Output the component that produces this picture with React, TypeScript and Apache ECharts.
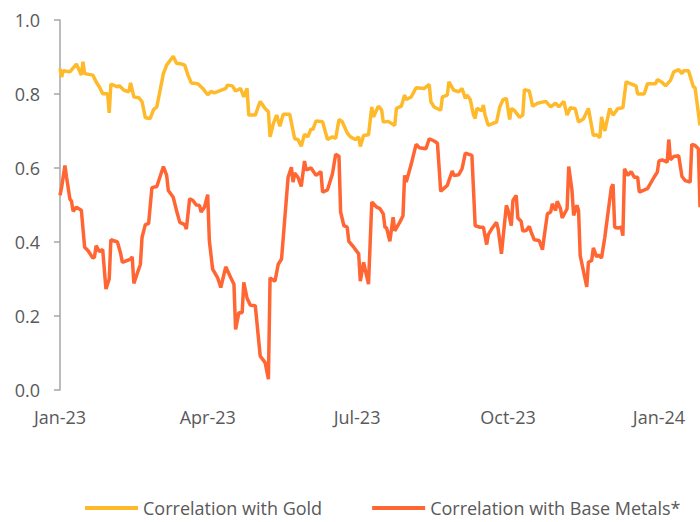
import React, { useEffect, useRef } from "react";
import * as echarts from "echarts";

const START_DATE = "2023-01-01";
const DAY_COUNT = 391; // daily categories through 2024-01-26
const QUARTER_MONTHS = ["01", "04", "07", "10"];
const MONTH_NAMES = ["Jan", "Feb", "Mar", "Apr", "May", "Jun", "Jul", "Aug", "Sep", "Oct", "Nov", "Dec"];

const yTicks = [0, 0.2, 0.4, 0.6, 0.8, 1.0];

const goldDates = [
  "2023-01-01", "2023-01-02", "2023-01-03", "2023-01-07", "2023-01-11", "2023-01-14", "2023-01-15", "2023-01-16",
  "2023-01-21", "2023-01-23", "2023-01-25", "2023-01-27", "2023-01-30", "2023-01-31", "2023-02-01", "2023-02-05",
  "2023-02-06", "2023-02-09", "2023-02-12", "2023-02-13", "2023-02-15", "2023-02-18", "2023-02-20", "2023-02-22",
  "2023-02-25", "2023-02-27", "2023-03-01", "2023-03-05", "2023-03-07", "2023-03-11", "2023-03-13", "2023-03-16",
  "2023-03-18", "2023-03-20", "2023-03-22", "2023-03-26", "2023-03-29", "2023-04-01", "2023-04-03", "2023-04-05",
  "2023-04-09", "2023-04-12", "2023-04-13", "2023-04-16", "2023-04-18", "2023-04-21", "2023-04-23", "2023-04-25",
  "2023-04-26", "2023-04-30", "2023-05-03", "2023-05-06", "2023-05-08", "2023-05-09", "2023-05-11", "2023-05-13",
  "2023-05-15", "2023-05-17", "2023-05-21", "2023-05-24", "2023-05-26", "2023-05-28", "2023-05-30", "2023-06-01",
  "2023-06-03", "2023-06-04", "2023-06-06", "2023-06-10", "2023-06-13", "2023-06-16", "2023-06-18", "2023-06-20",
  "2023-06-22", "2023-06-25", "2023-06-27", "2023-06-30", "2023-07-02", "2023-07-03", "2023-07-05", "2023-07-08",
  "2023-07-10", "2023-07-11", "2023-07-14", "2023-07-16", "2023-07-17", "2023-07-20", "2023-07-24", "2023-07-25",
  "2023-07-28", "2023-07-30", "2023-07-31", "2023-08-03", "2023-08-06", "2023-08-11", "2023-08-14", "2023-08-15",
  "2023-08-17", "2023-08-21", "2023-08-22", "2023-08-25", "2023-08-26", "2023-08-29", "2023-09-01", "2023-09-03",
  "2023-09-05", "2023-09-06", "2023-09-08", "2023-09-10", "2023-09-11", "2023-09-12", "2023-09-15", "2023-09-16",
  "2023-09-17", "2023-09-19", "2023-09-22", "2023-09-24", "2023-09-26", "2023-09-28", "2023-09-30", "2023-10-02",
  "2023-10-03", "2023-10-05", "2023-10-08", "2023-10-10", "2023-10-11", "2023-10-14", "2023-10-16", "2023-10-19",
  "2023-10-24", "2023-10-27", "2023-10-30", "2023-11-01", "2023-11-04", "2023-11-06", "2023-11-08", "2023-11-11",
  "2023-11-13", "2023-11-16", "2023-11-19", "2023-11-22", "2023-11-24", "2023-11-26", "2023-11-27", "2023-11-29",
  "2023-12-02", "2023-12-04", "2023-12-07", "2023-12-10", "2023-12-12", "2023-12-15", "2023-12-18", "2023-12-19",
  "2023-12-23", "2023-12-25", "2023-12-30", "2023-12-31", "2024-01-03", "2024-01-05", "2024-01-08", "2024-01-10",
  "2024-01-13", "2024-01-15", "2024-01-16", "2024-01-19", "2024-01-22", "2024-01-23", "2024-01-26",
];

const goldValues = [
  0.869, 0.846, 0.863, 0.86, 0.881, 0.851, 0.887, 0.855,
  0.851, 0.833, 0.819, 0.801, 0.801, 0.749, 0.827, 0.819,
  0.823, 0.81, 0.806, 0.83, 0.792, 0.79, 0.779, 0.736,
  0.734, 0.758, 0.765, 0.855, 0.878, 0.902, 0.883, 0.881,
  0.878, 0.851, 0.83, 0.828, 0.815, 0.798, 0.807, 0.803,
  0.81, 0.815, 0.824, 0.822, 0.808, 0.815, 0.792, 0.815,
  0.743, 0.743, 0.78, 0.761, 0.752, 0.684, 0.72, 0.743,
  0.713, 0.745, 0.745, 0.679, 0.677, 0.659, 0.691, 0.684,
  0.706, 0.703, 0.727, 0.725, 0.677, 0.684, 0.68, 0.731,
  0.725, 0.695, 0.684, 0.677, 0.684, 0.658, 0.688, 0.69,
  0.765, 0.738, 0.767, 0.757, 0.724, 0.726, 0.715, 0.761,
  0.767, 0.797, 0.785, 0.792, 0.817, 0.815, 0.826, 0.779,
  0.765, 0.756, 0.792, 0.797, 0.833, 0.81, 0.806, 0.815,
  0.788, 0.797, 0.785, 0.743, 0.734, 0.761, 0.755, 0.77,
  0.743, 0.715, 0.721, 0.724, 0.765, 0.785, 0.788, 0.731,
  0.761, 0.755, 0.737, 0.743, 0.812, 0.808, 0.767, 0.775,
  0.78, 0.765, 0.775, 0.765, 0.78, 0.743, 0.763, 0.76,
  0.724, 0.733, 0.761, 0.688, 0.69, 0.682, 0.738, 0.7,
  0.761, 0.743, 0.761, 0.763, 0.833, 0.827, 0.822, 0.8,
  0.8, 0.828, 0.828, 0.839, 0.831, 0.822, 0.837, 0.86,
  0.866, 0.855, 0.863, 0.863, 0.819, 0.817, 0.715,
];

const metalDates = [
  "2023-01-01", "2023-01-02", "2023-01-04", "2023-01-05", "2023-01-07", "2023-01-08", "2023-01-09", "2023-01-11",
  "2023-01-14", "2023-01-16", "2023-01-18", "2023-01-21", "2023-01-22", "2023-01-23", "2023-01-25", "2023-01-27",
  "2023-01-29", "2023-01-31", "2023-02-01", "2023-02-05", "2023-02-07", "2023-02-08", "2023-02-13", "2023-02-14",
  "2023-02-15", "2023-02-19", "2023-02-20", "2023-02-22", "2023-02-24", "2023-02-26", "2023-03-01", "2023-03-05",
  "2023-03-07", "2023-03-08", "2023-03-11", "2023-03-13", "2023-03-15", "2023-03-18", "2023-03-19", "2023-03-21",
  "2023-03-23", "2023-03-25", "2023-03-27", "2023-03-28", "2023-03-30", "2023-04-01", "2023-04-02", "2023-04-04",
  "2023-04-07", "2023-04-09", "2023-04-12", "2023-04-15", "2023-04-17", "2023-04-18", "2023-04-20", "2023-04-22",
  "2023-04-23", "2023-04-25", "2023-04-27", "2023-04-30", "2023-05-03", "2023-05-06", "2023-05-08", "2023-05-09",
  "2023-05-12", "2023-05-14", "2023-05-16", "2023-05-20", "2023-05-22", "2023-05-23", "2023-05-24", "2023-05-26",
  "2023-05-28", "2023-05-30", "2023-05-31", "2023-06-03", "2023-06-06", "2023-06-09", "2023-06-10", "2023-06-13",
  "2023-06-16", "2023-06-18", "2023-06-20", "2023-06-21", "2023-06-23", "2023-06-25", "2023-06-26", "2023-06-29",
  "2023-07-02", "2023-07-03", "2023-07-05", "2023-07-08", "2023-07-10", "2023-07-13", "2023-07-15", "2023-07-17",
  "2023-07-18", "2023-07-19", "2023-07-21", "2023-07-23", "2023-07-24", "2023-07-27", "2023-07-29", "2023-07-30",
  "2023-07-31", "2023-08-03", "2023-08-06", "2023-08-08", "2023-08-12", "2023-08-14", "2023-08-17", "2023-08-19",
  "2023-08-21", "2023-08-25", "2023-08-28", "2023-08-29", "2023-09-01", "2023-09-03", "2023-09-05", "2023-09-09",
  "2023-09-11", "2023-09-14", "2023-09-16", "2023-09-18", "2023-09-19", "2023-09-21", "2023-09-24", "2023-09-25",
  "2023-09-27", "2023-09-30", "2023-10-01", "2023-10-03", "2023-10-04", "2023-10-06", "2023-10-07", "2023-10-09",
  "2023-10-10", "2023-10-12", "2023-10-14", "2023-10-15", "2023-10-17", "2023-10-20", "2023-10-22", "2023-10-23",
  "2023-10-25", "2023-10-27", "2023-10-28", "2023-10-30", "2023-10-31", "2023-11-02", "2023-11-03", "2023-11-06",
  "2023-11-07", "2023-11-09", "2023-11-10", "2023-11-12", "2023-11-13", "2023-11-14", "2023-11-18", "2023-11-19",
  "2023-11-21", "2023-11-22", "2023-11-24", "2023-11-25", "2023-11-27", "2023-11-29", "2023-12-01", "2023-12-03",
  "2023-12-04", "2023-12-05", "2023-12-07", "2023-12-09", "2023-12-10", "2023-12-11", "2023-12-13", "2023-12-15",
  "2023-12-17", "2023-12-19", "2023-12-20", "2023-12-25", "2023-12-29", "2023-12-31", "2024-01-01", "2024-01-03",
  "2024-01-06", "2024-01-07", "2024-01-08", "2024-01-10", "2024-01-13", "2024-01-15", "2024-01-17", "2024-01-20",
  "2024-01-21", "2024-01-23", "2024-01-25", "2024-01-26",
];

const metalValues = [
  0.526, 0.548, 0.607, 0.575, 0.517, 0.51, 0.483, 0.494,
  0.486, 0.386, 0.377, 0.357, 0.359, 0.39, 0.374, 0.38,
  0.273, 0.3, 0.406, 0.4, 0.368, 0.345, 0.354, 0.36,
  0.288, 0.34, 0.413, 0.447, 0.45, 0.547, 0.55, 0.604,
  0.58, 0.539, 0.521, 0.485, 0.453, 0.447, 0.435, 0.517,
  0.512, 0.5, 0.499, 0.481, 0.494, 0.528, 0.404, 0.327,
  0.304, 0.277, 0.333, 0.304, 0.286, 0.164, 0.209, 0.209,
  0.291, 0.248, 0.229, 0.228, 0.092, 0.074, 0.029, 0.303,
  0.294, 0.34, 0.354, 0.575, 0.602, 0.562, 0.586, 0.575,
  0.55, 0.619, 0.595, 0.6, 0.58, 0.59, 0.535, 0.541,
  0.584, 0.637, 0.632, 0.481, 0.444, 0.44, 0.402, 0.386,
  0.368, 0.294, 0.345, 0.286, 0.508, 0.494, 0.49, 0.476,
  0.44, 0.438, 0.402, 0.467, 0.43, 0.453, 0.471, 0.58,
  0.562, 0.61, 0.664, 0.655, 0.652, 0.679, 0.673, 0.667,
  0.537, 0.553, 0.592, 0.58, 0.582, 0.598, 0.64, 0.634,
  0.444, 0.44, 0.44, 0.393, 0.42, 0.435, 0.453, 0.435,
  0.368, 0.499, 0.486, 0.444, 0.512, 0.526, 0.465, 0.456,
  0.43, 0.431, 0.442, 0.428, 0.406, 0.404, 0.379, 0.413,
  0.476, 0.481, 0.503, 0.485, 0.51, 0.49, 0.465, 0.49,
  0.604, 0.539, 0.472, 0.499, 0.485, 0.363, 0.279, 0.345,
  0.35, 0.384, 0.36, 0.365, 0.357, 0.413, 0.481, 0.548,
  0.556, 0.44, 0.438, 0.44, 0.417, 0.598, 0.58, 0.59,
  0.575, 0.575, 0.535, 0.544, 0.575, 0.589, 0.619, 0.622,
  0.616, 0.677, 0.622, 0.631, 0.633, 0.577, 0.566, 0.562,
  0.664, 0.661, 0.652, 0.494,
];

const SERIES_NAMES = ["Correlation with Gold", "Correlation with Base Metals*"];
const COLORS = ["#FFBA2C", "#FF6633"];

function buildDays(): string[] {
  const [y, m, d] = START_DATE.split("-").map(Number);
  const base = Date.UTC(y, m - 1, d);
  const out: string[] = [];
  for (let i = 0; i < DAY_COUNT; i++) {
    out.push(new Date(base + i * 86400000).toISOString().slice(0, 10));
  }
  return out;
}

function quarterLabel(date: string): string {
  const [y, m] = date.split("-");
  return `${MONTH_NAMES[Number(m) - 1]}-${y.slice(2)}`;
}

const FONT = "'Open Sans', sans-serif";
const TEXT_COLOR = "#595959";

export default function App() {
  const ref = useRef<HTMLDivElement>(null);

  useEffect(() => {
    if (!ref.current) return;
    const chart = echarts.init(ref.current, undefined, { renderer: "svg" });
    const days = buildDays();
    const isQuarterStart = (date: string) =>
      date.endsWith("-01") && QUARTER_MONTHS.includes(date.slice(5, 7));

    chart.setOption({
      animation: false,
      textStyle: { fontFamily: FONT },
      grid: { left: 60, right: 0, top: 20, bottom: 132, containLabel: false },
      legend: {
        data: SERIES_NAMES.map((name) => ({ name, icon: "rect" })),
        left: 85,
        top: 499,
        padding: 0,
        itemWidth: 53,
        itemHeight: 4,
        itemGap: 50,
        textStyle: { fontSize: 18, lineHeight: 18, color: TEXT_COLOR, fontFamily: FONT },
      },
      xAxis: {
        type: "category",
        data: days,
        boundaryGap: false,
        axisLine: { show: false },
        axisTick: { show: false },
        splitLine: { show: false },
        axisLabel: {
          interval: (_i: number, v: string) => isQuarterStart(v),
          formatter: (v: string) => quarterLabel(v),
          fontSize: 18,
          color: TEXT_COLOR,
          fontFamily: FONT,
          margin: 18,
          showMinLabel: true,
        },
      },
      yAxis: {
        type: "value",
        min: 0,
        max: 1,
        interval: 0.2,
        axisLine: { show: true, lineStyle: { color: "#A6A6A6", width: 1.5 } },
        axisTick: { show: true, length: 6, lineStyle: { color: "#A6A6A6", width: 1.5 } },
        splitLine: { show: false },
        axisLabel: {
          formatter: (v: number) => {
            const t = yTicks.find((k) => Math.abs(k - v) < 1e-9);
            return (t ?? v).toFixed(1);
          },
          fontSize: 18,
          color: TEXT_COLOR,
          fontFamily: FONT,
          margin: 20,
        },
      },
      series: [
        {
          name: SERIES_NAMES[0],
          type: "line",
          data: goldDates.map((d, i) => [d, goldValues[i]]),
          symbol: "none",
          lineStyle: { color: COLORS[0], width: 3.5 },
          itemStyle: { color: COLORS[0] },
          z: 2,
        },
        {
          name: SERIES_NAMES[1],
          type: "line",
          data: metalDates.map((d, i) => [d, metalValues[i]]),
          symbol: "none",
          lineStyle: { color: COLORS[1], width: 3.5 },
          itemStyle: { color: COLORS[1] },
          z: 3,
        },
      ],
    });

    return () => chart.dispose();
  }, []);

  return (
    <div
      ref={ref}
      style={{ position: "fixed", left: 0, top: 0, width: 700, height: 522, background: "#fff" }}
    />
  );
}
